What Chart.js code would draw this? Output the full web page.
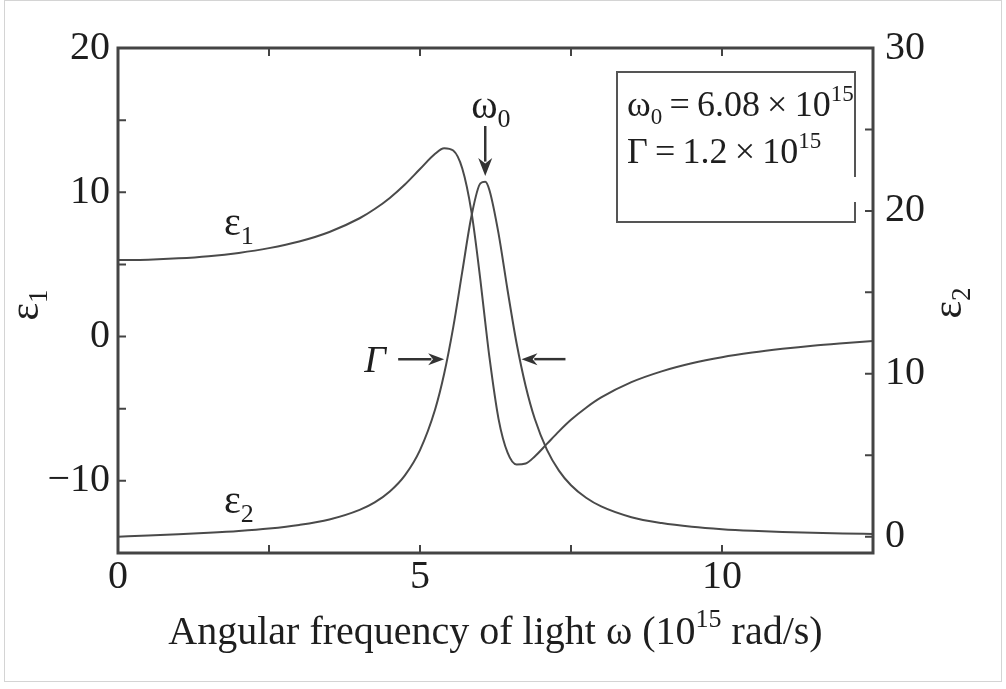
<!DOCTYPE html>
<html>
<head>
<meta charset="utf-8">
<script src="https://cdn.jsdelivr.net/npm/chart.js@4.4.0/dist/chart.umd.min.js"></script>
<style>
  html, body { margin: 0; padding: 0; background: #fff; }
  #wrap { width: 1006px; height: 689px; position: relative; }
</style>
</head>
<body>
<div id="wrap"><canvas id="myChart" width="1006" height="689"></canvas></div>
<script>
// angular frequency (10^15 rad/s)
var omega = [0, 0.5, 1, 1.5, 2, 2.5, 3, 3.5, 4, 4.25, 4.5, 4.75, 5, 5.25, 5.4, 5.55, 5.7, 5.85, 6, 6.08,
  6.15, 6.3, 6.45, 6.6, 6.75, 6.9, 7.1, 7.3, 7.5, 7.75, 8, 8.5, 9, 9.5, 10, 10.5, 11, 11.5, 12, 12.5];
// real part (left axis)
var eps1 = [5.3, 5.33, 5.42, 5.57, 5.8, 6.13, 6.59, 7.25, 8.2, 8.84, 9.61, 10.54, 11.61, 12.67, 13.06, 12.9, 11.65, 8.69, 3.92, 1.0,
  -1.45, -5.7, -8.05, -8.87, -8.8, -8.31, -7.44, -6.57, -5.77, -4.93, -4.22, -3.16, -2.41, -1.85, -1.43, -1.11, -0.85, -0.63, -0.46, -0.31];
// imaginary part (right axis)
var eps2 = [0, 0.07, 0.15, 0.24, 0.35, 0.5, 0.72, 1.06, 1.65, 2.11, 2.78, 3.77, 5.32, 7.81, 10.0, 12.85, 16.27, 19.64, 21.69, 21.79,
  21.27, 18.62, 15.13, 11.86, 9.24, 7.24, 5.35, 4.06, 3.16, 2.39, 1.86, 1.2, 0.84, 0.61, 0.46, 0.36, 0.29, 0.24, 0.2, 0.17];

var xLabels = [0, 5, 10];
var leftLabels = [-10, 0, 10, 20];
var rightLabels = [0, 10, 20, 30];

var omega0 = 6.08;
var gamma = 1.2;

var SERIF = '"Liberation Serif", "DejaVu Serif", serif';
var INK = "#1e1e1e";
var LINE = "#4a4a4a";

function toPoints(ys) {
  return omega.map(function (w, i) { return { x: w, y: ys[i] }; });
}

// text with sub/superscripts, k: n = normal, i = italic, sub, sup
function rich(ctx, parts, x, y, size, align) {
  function fontFor(k) {
    var s = (k == "sub" || k == "sup") ? Math.round(size * 0.64) : size;
    return (k == "i" ? "italic " : "") + s + "px " + SERIF;
  }
  var w = 0;
  parts.forEach(function (p) { ctx.font = fontFor(p[1]); w += ctx.measureText(p[0]).width; });
  var cx = align == "center" ? x - w / 2 : x;
  ctx.textAlign = "left";
  ctx.textBaseline = "alphabetic";
  parts.forEach(function (p) {
    ctx.font = fontFor(p[1]);
    var dy = p[1] == "sub" ? size * 0.22 : (p[1] == "sup" ? -size * 0.42 : 0);
    ctx.fillText(p[0], cx, y + dy);
    cx += ctx.measureText(p[0]).width;
  });
}

function arrow(ctx, x1, y1, x2, y2, hl, hw) {
  var ang = Math.atan2(y2 - y1, x2 - x1);
  var c = Math.cos(ang), s = Math.sin(ang);
  ctx.beginPath();
  ctx.moveTo(x1, y1);
  ctx.lineTo(x2 - c * hl * 0.8, y2 - s * hl * 0.8);
  ctx.stroke();
  ctx.beginPath();
  ctx.moveTo(x2, y2);
  ctx.lineTo(x2 - c * hl - s * hw, y2 - s * hl + c * hw);
  ctx.lineTo(x2 - c * hl * 0.7, y2 - s * hl * 0.7);
  ctx.lineTo(x2 - c * hl + s * hw, y2 - s * hl - c * hw);
  ctx.closePath();
  ctx.fill();
}

var decor = {
  id: "decor",
  afterDraw: function (chart) {
    var ctx = chart.ctx;
    var a = chart.chartArea;
    var sx = chart.scales.x, sl = chart.scales.y, sr = chart.scales.y2;
    ctx.save();

    // outer light frame
    ctx.strokeStyle = "#d4d4d4";
    ctx.lineWidth = 1;
    ctx.strokeRect(4.5, 0.5, 997, 681);

    // plot box
    ctx.strokeStyle = "#444";
    ctx.lineWidth = 3;
    ctx.strokeRect(a.left, a.top, a.right - a.left, a.bottom - a.top);

    // inward ticks
    ctx.lineWidth = 2;
    ctx.beginPath();
    sx.ticks.forEach(function (t) {
      var px = sx.getPixelForValue(t.value);
      ctx.moveTo(px, a.bottom); ctx.lineTo(px, a.bottom - 8);
      ctx.moveTo(px, a.top); ctx.lineTo(px, a.top + 8);
    });
    sl.ticks.forEach(function (t) {
      var py = sl.getPixelForValue(t.value);
      ctx.moveTo(a.left, py); ctx.lineTo(a.left + 8, py);
    });
    sr.ticks.forEach(function (t) {
      var py = sr.getPixelForValue(t.value);
      ctx.moveTo(a.right, py); ctx.lineTo(a.right - 8, py);
    });
    ctx.stroke();

    ctx.fillStyle = INK;
    // axis titles
    rich(ctx, [["Angular frequency of light \u03c9 (10", "n"], ["15", "sup"], [" rad/s)", "n"]],
      (a.left + a.right) / 2, 644, 40, "center");
    ctx.save();
    ctx.translate(38, 305);
    ctx.rotate(-Math.PI / 2);
    rich(ctx, [["\u03b5", "n"], ["1", "sub"]], 0, 0, 42, "center");
    ctx.restore();
    ctx.save();
    ctx.translate(961, 303);
    ctx.rotate(-Math.PI / 2);
    rich(ctx, [["\u03b5", "n"], ["2", "sub"]], 0, 0, 42, "center");
    ctx.restore();

    // curve labels
    rich(ctx, [["\u03b5", "n"], ["1", "sub"]], 224, 235, 40);
    rich(ctx, [["\u03b5", "n"], ["2", "sub"]], 224, 513, 40);

    // omega0 arrow
    var px0 = sx.getPixelForValue(omega0);
    rich(ctx, [["\u03c9", "n"], ["0", "sub"]], px0 - 14, 118, 40);
    ctx.strokeStyle = "#333";
    ctx.fillStyle = "#333";
    ctx.lineWidth = 2.5;
    arrow(ctx, px0, 126, px0, 176, 18, 7);

    // Gamma (FWHM) arrows at half maximum of eps2
    var half = sr.getPixelForValue(21.8 / 2);
    var pl = sx.getPixelForValue(omega0 - gamma / 2 - 0.08);
    var pr = sx.getPixelForValue(omega0 + gamma / 2);
    arrow(ctx, pl - 46, half, pl, half, 16, 6);
    arrow(ctx, pr + 44, half, pr, half, 16, 6);
    ctx.fillStyle = INK;
    rich(ctx, [["\u0393", "i"]], pl - 80, half + 13, 38);

    // inset box
    ctx.strokeStyle = "#555";
    ctx.lineWidth = 2;
    ctx.beginPath();
    ctx.moveTo(855, 177); ctx.lineTo(855, 72); ctx.lineTo(617, 72); ctx.lineTo(617, 222);
    ctx.lineTo(855, 222); ctx.lineTo(855, 202);
    ctx.stroke();
    rich(ctx, [["\u03c9", "n"], ["0", "sub"], ["\u2009=\u20096.08\u2009\u00d7\u200910", "n"], ["15", "sup"]], 627, 116, 36);
    rich(ctx, [["\u0393\u2009=\u20091.2\u2009\u00d7\u200910", "n"], ["15", "sup"]], 627, 163, 36);

    ctx.restore();
  }
};

var tickFont = { family: SERIF, size: 40 };

var ctx = document.getElementById("myChart").getContext("2d");
var myChart = new Chart(ctx, {
  type: "line",
  data: {
    datasets: [
      {
        label: "\u03b51",
        data: toPoints(eps1),
        yAxisID: "y",
        borderColor: LINE,
        borderWidth: 2,
        pointRadius: 0,
        cubicInterpolationMode: "monotone",
      },
      {
        label: "\u03b52",
        data: toPoints(eps2),
        yAxisID: "y2",
        borderColor: LINE,
        borderWidth: 2,
        pointRadius: 0,
        cubicInterpolationMode: "monotone",
      },
    ],
  },
  options: {
    responsive: false,
    animation: false,
    events: [],
    layout: { padding: { top: 48, left: 0, right: 0, bottom: 0 } },
    plugins: { legend: { display: false }, tooltip: { enabled: false } },
    scales: {
      x: {
        type: "linear",
        min: 0,
        max: 12.5,
        grid: { display: false, drawTicks: false },
        border: { display: false },
        ticks: {
          stepSize: 2.5,
          padding: 0,
          maxRotation: 0,
          autoSkip: false,
          color: INK,
          font: tickFont,
          callback: function (v) { return xLabels.indexOf(v) >= 0 ? String(v) : ""; },
        },
        afterFit: function (s) { s.height = 136; },
      },
      y: {
        position: "left",
        min: -15,
        max: 20,
        grid: { display: false, drawTicks: false },
        border: { display: false },
        ticks: {
          stepSize: 5,
          padding: 8,
          autoSkip: false,
          color: INK,
          font: tickFont,
          callback: function (v) {
            if (leftLabels.indexOf(v) < 0) return "";
            return v < 0 ? "\u2212" + Math.abs(v) : String(v);
          },
        },
        afterFit: function (s) { s.width = 118; },
      },
      y2: {
        position: "right",
        min: -1,
        max: 30,
        grid: { display: false, drawTicks: false },
        border: { display: false },
        afterBuildTicks: function (s) {
          s.ticks = [0, 5, 10, 15, 20, 25, 30].map(function (v) { return { value: v }; });
        },
        ticks: {
          padding: 12,
          autoSkip: false,
          color: INK,
          font: tickFont,
          callback: function (v) { return rightLabels.indexOf(v) >= 0 ? String(v) : ""; },
        },
        afterFit: function (s) { s.width = 133; },
      },
    },
  },
  plugins: [decor],
});
</script>
</body>
</html>
